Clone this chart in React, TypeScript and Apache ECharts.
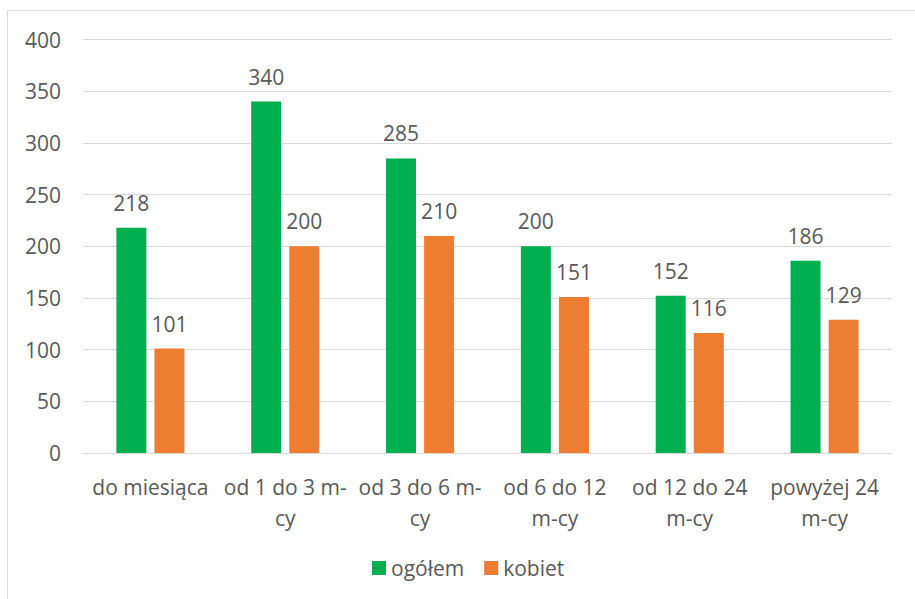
import React, { useEffect, useRef } from "react";
import * as echarts from "echarts";

const categories = [
  "do miesiąca",
  "od 1 do 3 m-\ncy",
  "od 3 do 6 m-\ncy",
  "od 6 do 12\nm-cy",
  "od 12 do 24\nm-cy",
  "powyżej 24\nm-cy",
];
const seriesNames = ["ogółem", "kobiet"];
const ogolem = [218, 340, 285, 200, 152, 186];
const kobiet = [101, 200, 210, 151, 116, 129];
const yTicks = { min: 0, max: 400, interval: 50 };

const FONT = "'Open Sans', 'Noto Sans', sans-serif";
const TEXT = "#595959";
const FS = 21;

export default function App() {
  const ref = useRef<HTMLDivElement>(null);
  useEffect(() => {
    if (!ref.current) return;
    const chart = echarts.init(ref.current, undefined, { renderer: "svg" });
    const label = {
      show: true,
      position: "top",
      distance: 13,
      color: TEXT,
      fontFamily: FONT,
      fontSize: FS,
      lineHeight: 24,
    };
    chart.setOption({
      animation: false,
      backgroundColor: "#ffffff",
      graphic: [
        {
          type: "rect",
          shape: { x: 7.5, y: 10.5, width: 1000, height: 1000 },
          style: { fill: "none", stroke: "#d9d9d9", lineWidth: 1 },
          silent: true,
        },
      ],
      grid: { left: 83, right: 23, top: 39.5, bottom: 146, containLabel: false },
      legend: {
        data: seriesNames,
        top: 556,
        left: 372,
        padding: 0,
        itemWidth: 14,
        itemHeight: 14,
        itemGap: 20,
        icon: "rect",
        textStyle: { color: TEXT, fontFamily: FONT, fontSize: FS, lineHeight: 24 },
      },
      xAxis: {
        type: "category",
        data: categories,
        axisLine: { show: true, lineStyle: { color: "#d9d9d9", width: 1 } },
        axisTick: { show: false },
        axisLabel: {
          interval: 0,
          margin: 18,
          color: TEXT,
          fontFamily: FONT,
          fontSize: FS,
          lineHeight: 31,
        },
      },
      yAxis: {
        type: "value",
        min: yTicks.min,
        max: yTicks.max,
        interval: yTicks.interval,
        axisLine: { show: false },
        axisTick: { show: false },
        splitLine: { lineStyle: { color: "#d9d9d9", width: 1 } },
        axisLabel: {
          margin: 22,
          color: TEXT,
          fontFamily: FONT,
          fontSize: FS,
        },
      },
      series: [
        {
          name: seriesNames[0],
          type: "bar",
          data: ogolem,
          barWidth: 30,
          barGap: "27%",
          itemStyle: { color: "#00B050" },
          label,
        },
        {
          name: seriesNames[1],
          type: "bar",
          data: kobiet,
          barWidth: 30,
          barGap: "27%",
          itemStyle: { color: "#ED7D31" },
          label,
        },
      ],
    });
    return () => chart.dispose();
  }, []);
  return (
    <div
      ref={ref}
      style={{ position: "fixed", left: 0, top: 0, width: 915, height: 599 }}
    />
  );
}
